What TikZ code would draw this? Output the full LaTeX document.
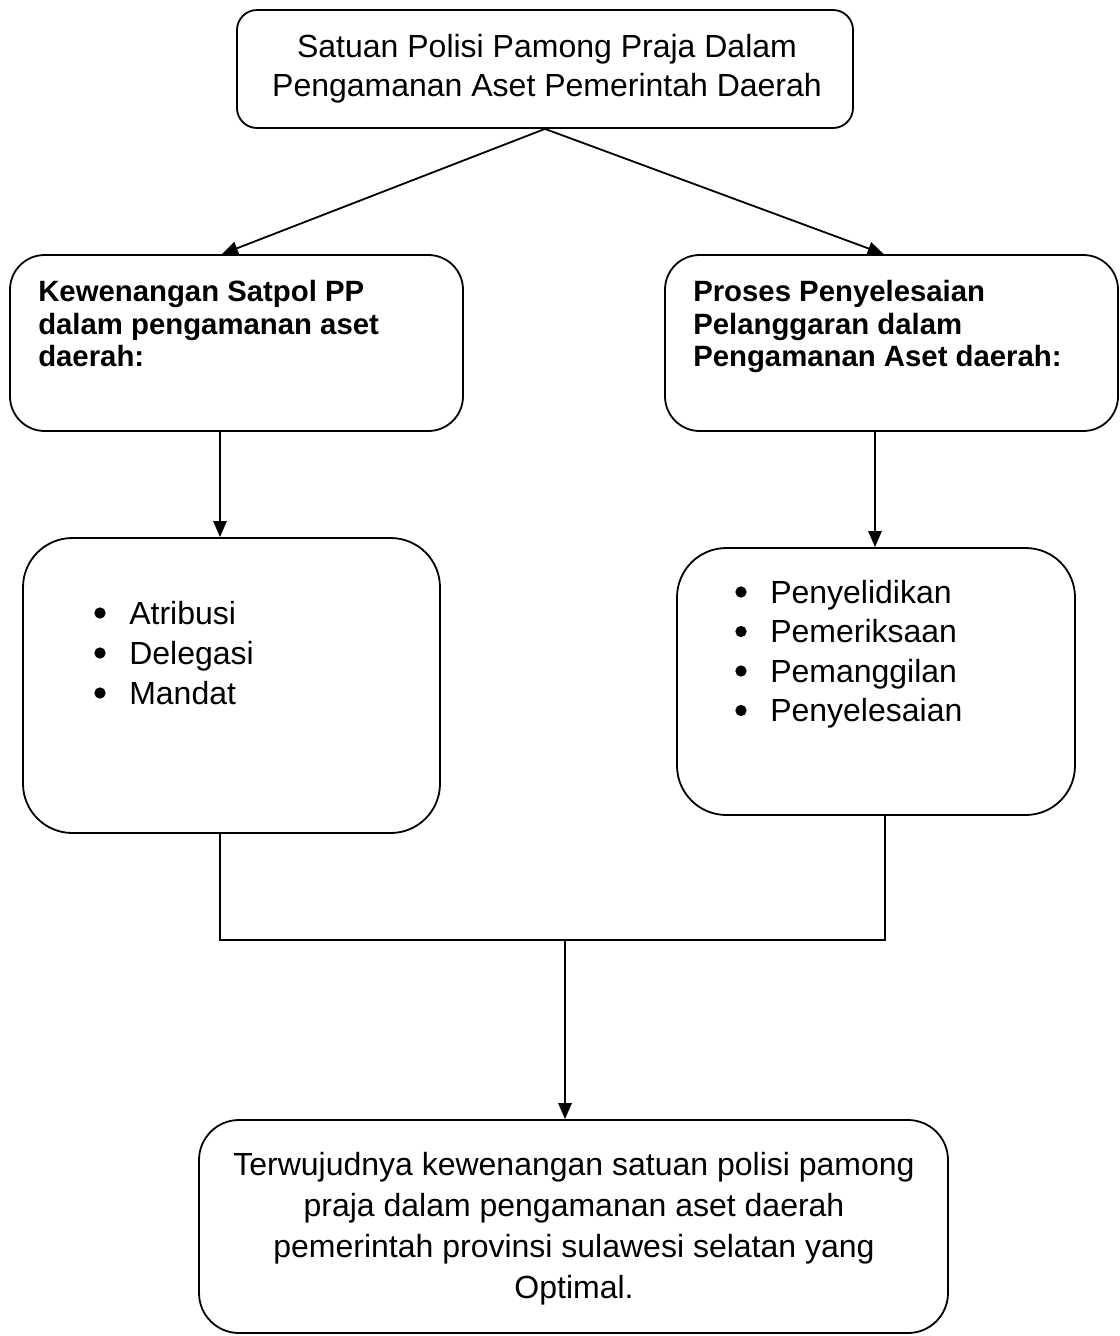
\documentclass[tikz,border=0pt]{standalone}
\usepackage{fontspec}
\setmainfont{Liberation Sans}
\usetikzlibrary{arrows.meta,calc}
\begin{document}
\begin{tikzpicture}[x=0.75pt,y=-0.75pt,
  box/.style={draw, line width=1.35pt, inner sep=0pt},
  txt/.style={inner sep=0pt, font=\fontsize{24pt}{29.5pt}\selectfont},
  btxt/.style={inner sep=0pt, font=\bfseries\fontsize{22pt}{24.4pt}\selectfont, align=left, anchor=north west},
  dot/.style={circle, fill=black, inner sep=0pt, minimum size=8.5pt},
  conn/.style={line width=1.35pt},
  arr/.style={conn, -{Triangle[length=12pt,width=10pt]}}]
\useasboundingbox (0,0) rectangle (1120,1336);

% boxes
\node[box, rounded corners=15pt, minimum width=462pt, minimum height=88.5pt] (top) at (545,69) {};
\node[box, rounded corners=26pt, minimum width=339.75pt, minimum height=132pt] (lhead) at (236.5,343) {};
\node[box, rounded corners=26pt, minimum width=339.75pt, minimum height=132pt] (rhead) at (891.5,343) {};
\node[box, rounded corners=37pt, minimum width=312.75pt, minimum height=221.25pt] (lbul) at (231.5,685.5) {};
\node[box, rounded corners=37pt, minimum width=298.5pt, minimum height=200.25pt] (rbul) at (876,681.5) {};
\node[box, rounded corners=30pt, minimum width=561.75pt, minimum height=159.75pt] (bot) at (573.5,1226.5) {};

% texts
\node[txt, align=center, anchor=north] (toptext) at (547,34)
  {Satuan Polisi Pamong Praja Dalam\\Pengamanan Aset Pemerintah Daerah};
\node[btxt] (lheadtext) at (38,280)
  {Kewenangan Satpol PP\\dalam pengamanan aset\\daerah:};
\node[btxt] (rheadtext) at (693,280)
  {Proses Penyelesaian\\Pelanggaran dalam\\Pengamanan Aset daerah:};
\node[txt, align=left, anchor=north west, font=\fontsize{24pt}{30pt}\selectfont] (lbultext) at (129,601)
  {Atribusi\\Delegasi\\Mandat};
\node[txt, align=left, anchor=north west, font=\fontsize{24pt}{29.6pt}\selectfont] (rbultext) at (770,580)
  {Penyelidikan\\Pemeriksaan\\Pemanggilan\\Penyelesaian};
\node[txt, align=center, anchor=north, font=\fontsize{24pt}{30.75pt}\selectfont] (bottext) at (574,1152)
  {Terwujudnya kewenangan satuan polisi pamong\\praja dalam pengamanan aset daerah\\pemerintah provinsi sulawesi selatan yang\\Optimal.};

% bullets
\node[dot] (lb1) at (100,613) {};
\node[dot] (lb2) at (100,653) {};
\node[dot] (lb3) at (100,693) {};
\node[dot] (rb1) at (741,592) {};
\node[dot] (rb2) at (741,631.5) {};
\node[dot] (rb3) at (741,671) {};
\node[dot] (rb4) at (741,710.5) {};

% connectors
\coordinate (lx) at (220,0);
\coordinate (rx) at (875,0);
\coordinate (rx2) at (885,0);
\coordinate (join) at (565,940);
\draw[arr] (top.south) -- ($(lhead.north west)!0.468!(lhead.north east)$);
\draw[arr] (top.south) -- ($(rhead.north west)!0.483!(rhead.north east)$);
\draw[arr] (lhead.south -| lx) -- (lbul.north -| lx);
\draw[arr] (rhead.south -| rx) -- (rbul.north -| rx);
\draw[conn] (lbul.south -| lx) |- (join) -| (rbul.south -| rx2);
\draw[arr] (join) -- (bot.north -| join);
\end{tikzpicture}
\end{document}
